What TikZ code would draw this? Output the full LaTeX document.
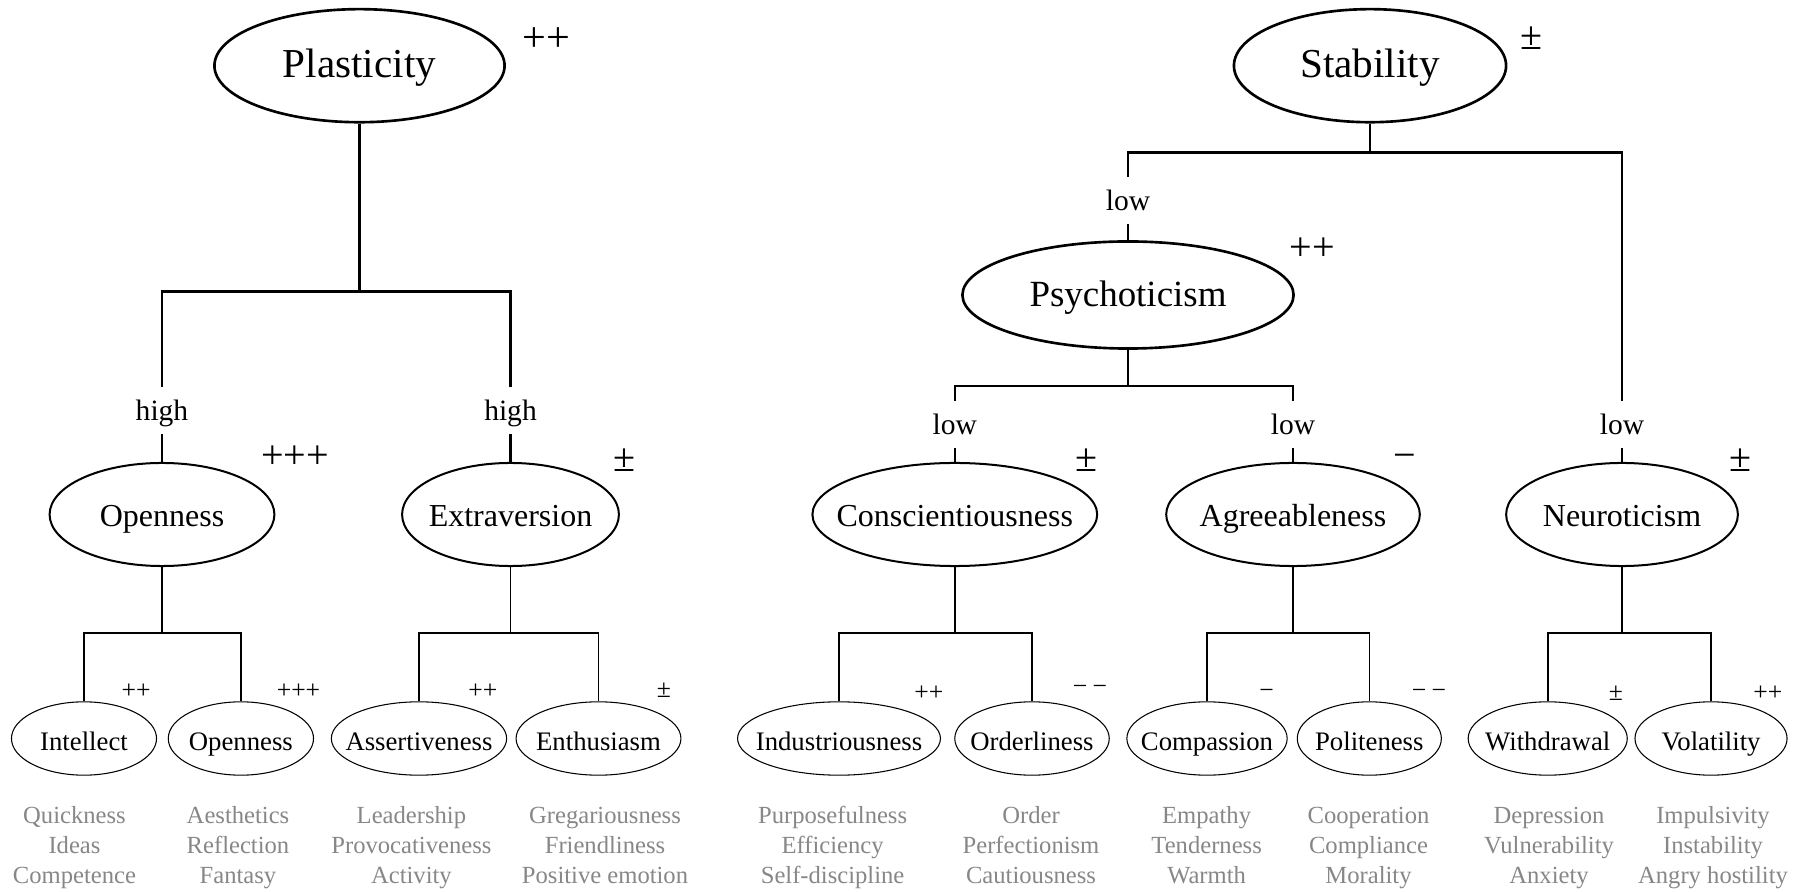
\documentclass[tikz,border=0pt]{standalone}
\usepackage{fontspec}
\setmainfont{Liberation Serif}
\usetikzlibrary{shapes.geometric}

% text that does not widen its ellipse
\newcommand{\nm}[1]{\makebox[0pt]{#1}}
\newcommand{\facet}[3]{\begin{tabular}[t]{@{}c@{}}#1\\#2\\#3\end{tabular}}

\tikzset{
  big/.style={ellipse, draw, line width=0.75pt, inner sep=0pt, minimum height=1.13cm,
    text height=0.66em, text depth=0pt, font=\fontsize{11.7}{14}\selectfont},
  mid/.style={ellipse, draw, line width=0.57pt, inner sep=0pt, minimum height=1.03cm,
    text height=0.66em, text depth=0pt, font=\fontsize{9.1}{11}\selectfont},
  small/.style={ellipse, draw, line width=0.3pt, inner sep=0pt, minimum height=0.733cm,
    text height=0.66em, text depth=0pt, font=\fontsize{7.6}{9}\selectfont},
  lbl/.style={anchor=base, inner sep=0pt, text height=9.5pt, text depth=3.6pt,
    font=\fontsize{8.4}{10}\selectfont},
  sgn/.style={inner sep=0pt, font=\fontsize{11.4}{13}\selectfont},
  ssgn/.style={inner sep=0pt, font=\fontsize{7.3}{9}\selectfont},
  facetcol/.style={anchor=base, inner sep=0pt, text=black!47, font=\fontsize{7}{8.5}\selectfont},
  thk/.style={line width=0.75pt},
  thn/.style={line width=0.45pt},
}

\begin{document}
\begin{tikzpicture}[x=0.01cm, y=-0.01cm]
  \useasboundingbox (0,0) rectangle (1807,892);

  % top level
  \node[big, minimum width=2.9cm] (plast) at (359.5,65.7) {\nm{Plasticity}};
  \node[big, minimum width=2.72cm] (stab) at (1370,65.7) {\nm{Stability}};
  \node[sgn, font=\fontsize{12}{14}\selectfont] (sPlast) at (546,40) {++};
  \node[sgn] (sStab) at (1531,38) {±};

  \node[big, minimum width=3.31cm, minimum height=1.07cm, font=\fontsize{10.5}{12}\selectfont] (psych) at (1128,295) {\nm{Psychoticism}};
  \node[sgn] (sPsych) at (1312,249) {++};

  % branch labels
  \node[lbl] (hiO) at (162,420.7) {high};
  \node[lbl] (hiE) at (510.5,420.7) {high};
  \node[lbl] (loP) at (1128,210.7) {low};
  \node[lbl] (loC) at (954.8,435) {low};
  \node[lbl] (loA) at (1293,435) {low};
  \node[lbl] (loN) at (1622,435) {low};

  % middle level
  \node[mid, minimum width=2.247cm] (open) at (162,514.5) {\nm{Openness}};
  \node[mid, minimum width=2.167cm] (extra) at (510.5,514.5) {\nm{Extraversion}};
  \node[mid, minimum width=2.846cm] (consc) at (954.8,514.5) {\nm{Conscientiousness}};
  \node[mid, minimum width=2.535cm] (agree) at (1293,514.5) {\nm{Agreeableness}};
  \node[mid, minimum width=2.316cm] (neuro) at (1622,514.5) {\nm{Neuroticism}};
  \node[sgn] (sOpen) at (295,457.3) {+++};
  \node[sgn] (sExtra) at (624,460.5) {±};
  \node[sgn] (sConsc) at (1086.7,460.5) {±};
  \node[sgn] (sAgree) at (1405,461.7) {−};
  \node[sgn] (sNeuro) at (1740,460.5) {±};

  % bottom level
  \node[small, minimum width=1.45cm] (intel) at (84,738.5) {\nm{Intellect}};
  \node[small, minimum width=1.452cm] (open2) at (240.9,738.5) {\nm{Openness}};
  \node[small, minimum width=1.752cm] (assert) at (419,738.5) {\nm{Assertiveness}};
  \node[small, minimum width=1.648cm] (enth) at (598.5,738.5) {\nm{Enthusiasm}};
  \node[small, minimum width=2.028cm] (indus) at (839,738.5) {\nm{Industriousness}};
  \node[small, minimum width=1.544cm] (order) at (1032,738.5) {\nm{Orderliness}};
  \node[small, minimum width=1.602cm] (compa) at (1207,738.5) {\nm{Compassion}};
  \node[small, minimum width=1.44cm] (polit) at (1369.3,738.5) {\nm{Politeness}};
  \node[small, minimum width=1.59cm] (withd) at (1547.7,738.5) {\nm{Withdrawal}};
  \node[small, minimum width=1.52cm] (volat) at (1711,738.5) {\nm{Volatility}};

  \node[ssgn] (sIntel) at (136.2,691) {++};
  \node[ssgn] (sOpen2) at (298.5,691.4) {+++};
  \node[ssgn] (sAssert) at (482.9,691.4) {++};
  \node[ssgn] (sEnth) at (663.8,690) {±};
  \node[ssgn] (sIndus) at (928.8,693.7) {++};
  \node[ssgn] (sOrder) at (1090,690) {−\kern1.5pt−};
  \node[ssgn] (sCompa) at (1266.5,693.7) {−};
  \node[ssgn] (sPolit) at (1429,693.7) {−\kern1.5pt−};
  \node[ssgn] (sWithd) at (1615.8,693.3) {±};
  \node[ssgn] (sVolat) at (1767.8,693.7) {++};

  % facets
  \node[facetcol] (fIntel) at (74.5,823.3) {\facet{Quickness}{Ideas}{Competence}};
  \node[facetcol] (fOpen) at (238,823.3) {\facet{Aesthetics}{Reflection}{Fantasy}};
  \node[facetcol] (fAssert) at (411.4,823.3) {\facet{Leadership}{Provocativeness}{Activity}};
  \node[facetcol] (fEnth) at (605,823.3) {\facet{Gregariousness}{Friendliness}{Positive emotion}};
  \node[facetcol] (fIndus) at (832.6,823.3) {\facet{Purposefulness}{Efficiency}{Self-discipline}};
  \node[facetcol] (fOrder) at (1031,823.3) {\facet{Order}{Perfectionism}{Cautiousness}};
  \node[facetcol] (fCompa) at (1206.6,823.3) {\facet{Empathy}{Tenderness}{Warmth}};
  \node[facetcol] (fPolit) at (1368.5,823.3) {\facet{Cooperation}{Compliance}{Morality}};
  \node[facetcol] (fWithd) at (1549,823.3) {\facet{Depression}{Vulnerability}{Anxiety}};
  \node[facetcol] (fVolat) at (1713,823.3) {\facet{Impulsivity}{Instability}{Angry hostility}};

  % junctions
  \coordinate (plastJ) at (359.5,291.6);
  \coordinate (stabJ) at (1370,152.5);
  \coordinate (psychJ) at (1128,386);
  \coordinate (openJ) at (162,633);
  \coordinate (extraJ) at (510.5,633);
  \coordinate (conscJ) at (954.8,633);
  \coordinate (agreeJ) at (1293,633);
  \coordinate (neuroJ) at (1622,633);

  \draw[thk] (plast) -- (plastJ) -| (hiO);
  \draw[thk] (plastJ) -| (hiE);
  \draw[thk] (hiO) -- (open);
  \draw[thk] (hiE) -- (extra);

  \draw[thk] (stab) -- (stabJ) -| (loP);
  \draw[thk] (stabJ) -| (loN);
  \draw[thk] (loP) -- (psych);
  \draw[thk] (psych) -- (psychJ) -| (loC);
  \draw[thk] (psychJ) -| (loA);
  \draw[thk] (loC) -- (consc);
  \draw[thk] (loA) -- (agree);
  \draw[thk] (loN) -- (neuro);

  \draw[thn] (open) -- (openJ) -| (intel);
  \draw[thn] (openJ) -| (open2);
  \draw[thn] (extra) -- (extraJ) -| (assert);
  \draw[thn] (extraJ) -| (enth);
  \draw[thn] (consc) -- (conscJ) -| (indus);
  \draw[thn] (conscJ) -| (order);
  \draw[thn] (agree) -- (agreeJ) -| (compa);
  \draw[thn] (agreeJ) -| (polit);
  \draw[thn] (neuro) -- (neuroJ) -| (withd);
  \draw[thn] (neuroJ) -| (volat);
\end{tikzpicture}
\end{document}
